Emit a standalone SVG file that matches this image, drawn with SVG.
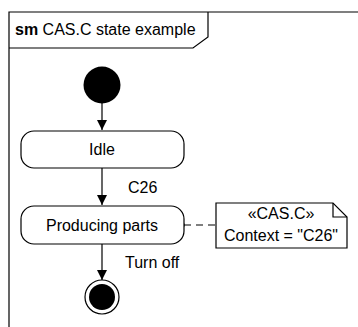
<svg xmlns="http://www.w3.org/2000/svg" width="358" height="327" viewBox="0 0 358 327">
<style>
text{font-family:"Liberation Sans",Arial,sans-serif;font-size:16px;fill:#000}
.c{text-anchor:middle}
.ln{stroke:#000;stroke-width:1.2;fill:none}
.st{fill:#fff;stroke:#000;stroke-width:1.2}
</style>
<defs>
<marker id="ah" viewBox="0 0 10 10" refX="10" refY="5" markerWidth="10" markerHeight="10" markerUnits="userSpaceOnUse" orient="auto">
<path d="M0,0 L10,5 L0,10 Z" fill="#000"/>
</marker>
</defs>
<rect width="358" height="327" fill="#fff"/>
<g id="frame">
<path d="M358,12 H9 V327" class="ln" stroke-width="2"/>
<path d="M9,48 H193 L208,37 V12" class="ln"/>
<text x="15" y="35"><tspan font-weight="bold">sm</tspan> CAS.C state example</text>
</g>
<g id="connectors">
<line x1="102" y1="103" x2="102" y2="130" class="ln" marker-end="url(#ah)"/>
<line x1="102" y1="168" x2="102" y2="205" class="ln" marker-end="url(#ah)"/>
<text x="128" y="193">C26</text>
<line x1="102" y1="244" x2="102" y2="280" class="ln" marker-end="url(#ah)"/>
<text x="125" y="268">Turn off</text>
<line x1="184" y1="225" x2="216" y2="225" class="ln" stroke-dasharray="7,5"/>
<circle cx="181" cy="225" r="3" class="st"/>
</g>
<g id="initial">
<circle cx="102" cy="85" r="18.5" fill="#000"/>
</g>
<g id="idle">
<rect x="21" y="131" width="163" height="37" rx="13" class="st"/>
<text x="102" y="155" class="c">Idle</text>
</g>
<g id="producing">
<rect x="21" y="206" width="163" height="38" rx="13" class="st"/>
<text x="102" y="231" class="c">Producing parts</text>
</g>
<g id="final">
<circle cx="102" cy="297" r="17" class="st"/>
<circle cx="102" cy="297" r="13" fill="#000"/>
</g>
<g id="note">
<path d="M216,203 H333 L347,217 V248 H216 Z" class="st"/>
<path d="M333,203 V217 H347" class="ln"/>
<text x="281" y="219" class="c">«CAS.C»</text>
<text x="281" y="241" class="c">Context = "C26"</text>
</g>
</svg>
